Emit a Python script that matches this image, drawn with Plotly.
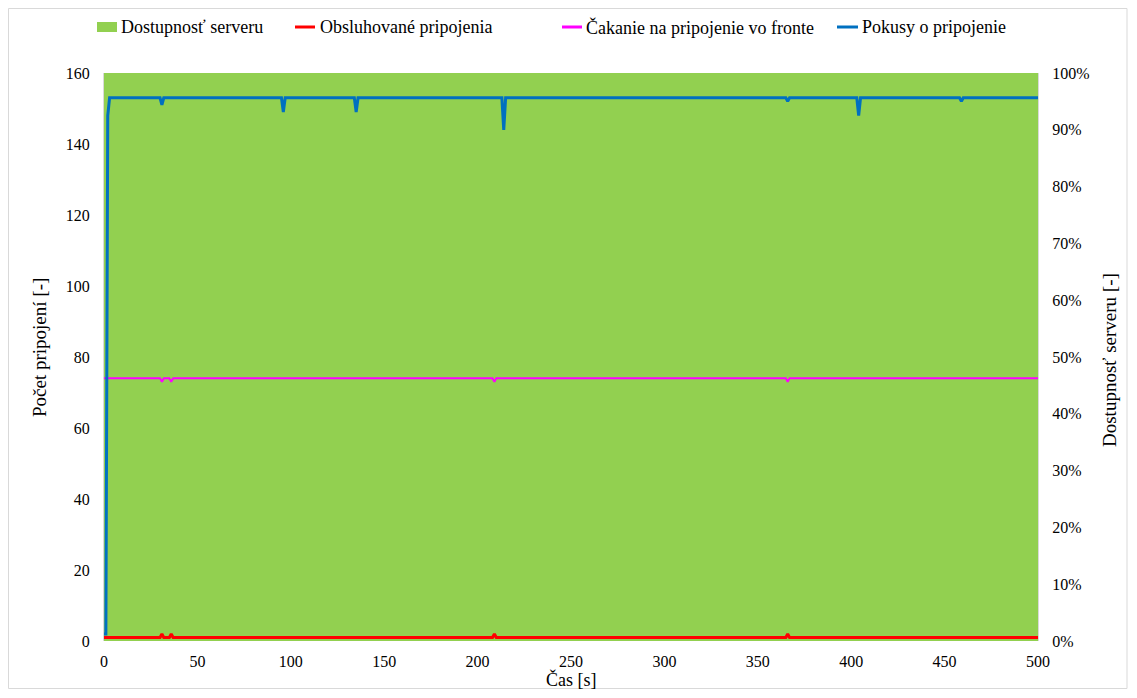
import plotly.graph_objects as go

# ---- data ----
time_s = list(range(0, 501))

availability_base = 1.0           # 100 % over the whole run

served_base = 1
served_peaks = {31: 2, 36: 2, 209: 2, 366: 2}

queue_base = 74
queue_dips = {31: 73, 36: 73, 209: 73, 366: 73}

attempts_base = 153
attempts_start = {0: 2, 1: 2, 2: 148}
attempts_dips = {31: 151, 96: 149, 135: 149, 214: 144, 366: 152, 404: 148, 459: 152}

y_ticks = [0, 20, 40, 60, 80, 100, 120, 140, 160]
x_ticks = [0, 50, 100, 150, 200, 250, 300, 350, 400, 450, 500]

series_names = ["Dostupnosť serveru", "Obsluhované pripojenia",
                "Čakanie na pripojenie vo fronte", "Pokusy o pripojenie"]
series_colors = ["#92D050", "#FF0000", "#FF00FF", "#0070C0"]

x_title = "Čas [s]"
y_left_title = "Počet pripojení [-]"
y_right_title = "Dostupnosť serveru [-]"

# ---- build series ----
availability = [availability_base for _ in time_s]
served = [served_peaks.get(t, served_base) for t in time_s]
queue = [queue_dips.get(t, queue_base) for t in time_s]
attempts = [attempts_start.get(t, attempts_dips.get(t, attempts_base)) for t in time_s]

FONT = "Liberation Serif, Times New Roman, serif"
OFF = 8                      # page body margin
W, H = 1121, 682             # figure size
L, T = 104 - OFF, 73 - OFF   # plot-area top-left in figure coords
R = W - (1038 - OFF)
B = H - (641 - OFF)
PW, PH = W - L - R, H - T - B


def px(x_page):
    return (x_page - OFF - L) / PW


def py(y_page):
    return (H - B - (y_page - OFF)) / PH


fig = go.Figure()
# green availability area on the (right-side) percentage axis, drawn beneath
fig.add_trace(go.Scatter(x=time_s, y=availability, name=series_names[0],
                         yaxis="y", mode="lines", line=dict(width=0, color=series_colors[0]),
                         fill="tozeroy", fillcolor=series_colors[0], showlegend=False))
fig.add_trace(go.Scatter(x=time_s, y=served, name=series_names[1], yaxis="y2",
                         mode="lines", line=dict(color=series_colors[1], width=3), showlegend=False))
fig.add_trace(go.Scatter(x=time_s, y=queue, name=series_names[2], yaxis="y2",
                         mode="lines", line=dict(color=series_colors[2], width=2), showlegend=False))
fig.add_trace(go.Scatter(x=time_s, y=attempts, name=series_names[3], yaxis="y2",
                         mode="lines", line=dict(color=series_colors[3], width=3), showlegend=False))

fig.update_layout(
    width=W, height=H,
    margin=dict(l=L, r=R, t=T, b=B, autoexpand=False),
    paper_bgcolor="white", plot_bgcolor="white",
    font=dict(family=FONT, size=16, color="#000000"),
    showlegend=False,
    xaxis=dict(range=[0, 500], tickvals=x_ticks, showgrid=False, zeroline=False,
               showline=False, ticks="outside", ticklen=6, tickcolor="rgba(0,0,0,0)",
               tickfont=dict(size=16), automargin=False),
    yaxis=dict(range=[0, 1], side="right", tickformat=".0%", dtick=0.1,
               showgrid=False, zeroline=False, showline=True,
               linecolor="#D9D9D9", linewidth=1, ticks="outside", ticklen=10,
               tickcolor="rgba(0,0,0,0)", tickfont=dict(size=16), automargin=False),
    yaxis2=dict(range=[0, 160], tickvals=y_ticks, overlaying="y", side="left",
                showgrid=False, zeroline=False, showline=True,
                linecolor="#D9D9D9", linewidth=1, ticks="outside", ticklen=10,
                tickcolor="rgba(0,0,0,0)", tickfont=dict(size=16), automargin=False),
)

# ---- manual legend (matches reference placement, page pixels) ----
leg_y = 27
sym_x = [(97, 117), (295, 315), (562, 582), (837, 858)]
txt_x = [119, 318, 584, 860]
shapes = []
annotations = []
for i, name in enumerate(series_names):
    x0, x1 = sym_x[i]
    if i == 0:
        shapes.append(dict(type="rect", xref="paper", yref="paper",
                           x0=px(x0), x1=px(x1), y0=py(leg_y + 5), y1=py(leg_y - 5),
                           line=dict(width=0), fillcolor=series_colors[i]))
    else:
        shapes.append(dict(type="line", xref="paper", yref="paper",
                           x0=px(x0), x1=px(x1), y0=py(leg_y), y1=py(leg_y),
                           line=dict(color=series_colors[i], width=3)))
    annotations.append(dict(text=name, xref="paper", yref="paper", x=px(txt_x[i]),
                            y=py(leg_y), xanchor="left", yanchor="middle", showarrow=False,
                            font=dict(family=FONT, size=18, color="#000000")))

# axis titles placed where the reference shows them
annotations.append(dict(text=x_title, xref="paper", yref="paper", x=px(571), y=py(679),
                        xanchor="center", yanchor="middle", showarrow=False,
                        font=dict(family=FONT, size=18, color="#000000")))
annotations.append(dict(text=y_left_title, xref="paper", yref="paper", x=px(39), y=py(348),
                        xanchor="center", yanchor="middle", showarrow=False, textangle=-90,
                        font=dict(family=FONT, size=19, color="#000000")))
annotations.append(dict(text=y_right_title, xref="paper", yref="paper", x=px(1110), y=py(360),
                        xanchor="center", yanchor="middle", showarrow=False, textangle=-90,
                        font=dict(family=FONT, size=19, color="#000000")))

# light chart border
shapes.append(dict(type="rect", xref="paper", yref="paper",
                   x0=px(8.5), x1=px(1127), y0=py(688.5), y1=py(8.5),
                   line=dict(color="#D9D9D9", width=1), fillcolor="rgba(0,0,0,0)", layer="below"))

fig.update_layout(shapes=shapes, annotations=annotations)

fig.write_html("out.html")
